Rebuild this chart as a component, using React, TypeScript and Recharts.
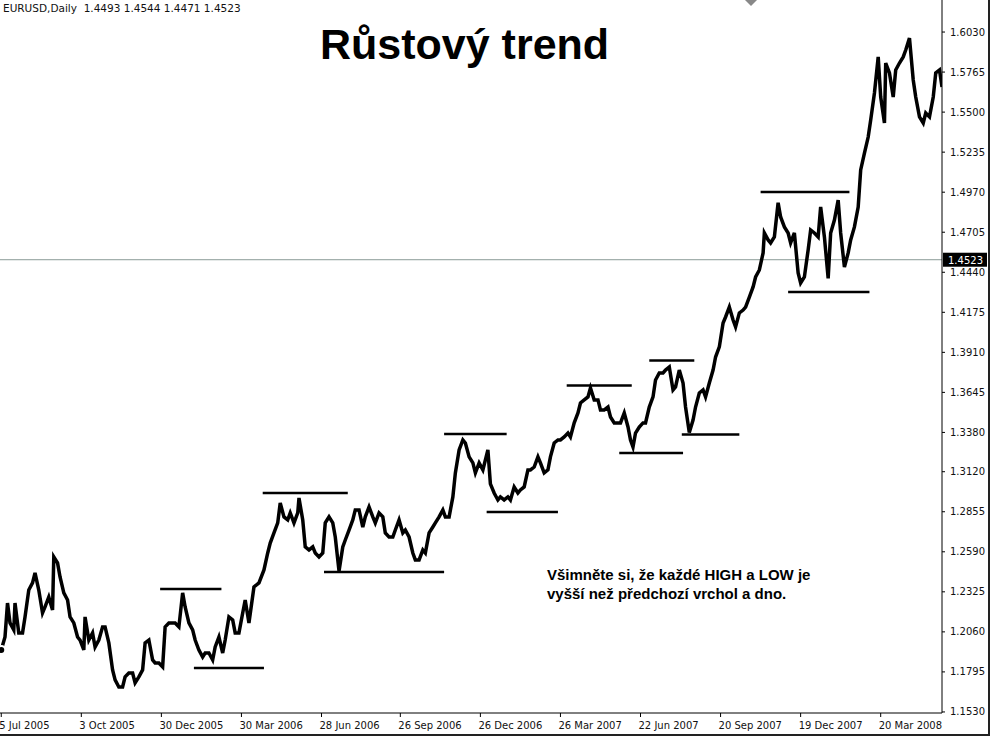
import React from 'react'
import { ComposedChart, Line, XAxis, YAxis, ReferenceLine } from 'recharts'

// trading-day index since 5 Jul 2005
const days = [
  0, 3, 5, 7, 10, 11, 14, 17, 19, 22,
  25, 27, 30, 33, 35, 38, 41, 42, 45, 47,
  50, 53, 55, 58, 61, 63, 66, 67, 70, 73,
  75, 78, 81, 83, 86, 89, 91, 94, 97, 99,
  102, 105, 107, 110, 113, 115, 118, 121, 123, 126,
  129, 131, 134, 137, 139, 142, 145, 147, 150, 153,
  155, 158, 161, 163, 166, 169, 171, 174, 177, 179,
  182, 185, 187, 190, 193, 195, 198, 202, 206, 210,
  213, 215, 218, 221, 223, 226, 229, 231, 234, 237,
  238, 241, 243, 246, 249, 251, 254, 257, 259, 262,
  265, 267, 270, 273, 275, 278, 281, 283, 286, 289,
  291, 294, 297, 299, 302, 305, 307, 310, 313, 315,
  318, 321, 323, 326, 329, 331, 334, 337, 339, 342,
  345, 347, 350, 353, 355, 358, 361, 363, 366, 369,
  371, 374, 377, 379, 382, 385, 389, 391, 394, 397,
  399, 402, 405, 407, 410, 413, 415, 418, 421, 423,
  426, 429, 431, 434, 437, 439, 442, 445, 447, 450,
  453, 455, 458, 461, 463, 466, 469, 471, 474, 477,
  479, 482, 485, 487, 490, 493, 495, 498, 501, 503,
  505, 507, 510, 513, 515, 518, 521, 523, 526, 529,
  531, 534, 537, 539, 542, 545, 547, 550, 553, 555,
  558, 561, 563, 566, 569, 571, 574, 577, 579, 582,
  585, 587, 590, 593, 595, 598, 601, 603, 606, 609,
  610, 613, 615, 618, 621, 623, 626, 629, 631, 634,
  637, 639, 642, 645, 647, 650, 653, 655, 658, 661,
  663, 666, 669, 671, 674, 677, 679, 682, 685, 687,
  690, 693, 695, 698, 701, 703, 706, 707, 710, 713,
  715, 718, 721, 723, 726, 729, 731, 734, 737, 739,
  742, 745, 747, 750, 752,
]

// EURUSD close
const closes = [
  1.194, 1.2026, 1.2251, 1.2119, 1.2073, 1.2251, 1.2053, 1.2053, 1.2159, 1.2337,
  1.2384, 1.245, 1.2337, 1.2185, 1.2225, 1.2291, 1.2205, 1.2556, 1.2516, 1.2423,
  1.2318, 1.2271, 1.2159, 1.2119, 1.2026, 1.2006, 1.194, 1.2159, 1.2006, 1.2053,
  1.196, 1.2006, 1.2093, 1.2093, 1.1987, 1.1808, 1.1742, 1.1695, 1.1695, 1.1762,
  1.1788, 1.1788, 1.1722, 1.1762, 1.1808, 1.1987, 1.2006, 1.1874, 1.1854, 1.1854,
  1.1828, 1.2093, 1.2119, 1.2119, 1.2119, 1.2093, 1.2318, 1.2225, 1.2119, 1.2073,
  1.2006, 1.194, 1.1894, 1.192, 1.192, 1.1874, 1.196, 1.2026, 1.192, 1.2006,
  1.2159, 1.2139, 1.2053, 1.2053, 1.2185, 1.2271, 1.2119, 1.2357, 1.2384, 1.247,
  1.2582, 1.2648, 1.2715, 1.2781, 1.2913, 1.2821, 1.2801, 1.2847, 1.2781, 1.2847,
  1.2946, 1.2801, 1.2622, 1.2602, 1.2622, 1.2582, 1.2556, 1.2582, 1.2781, 1.2821,
  1.2781, 1.2688, 1.2462, 1.2622, 1.2668, 1.2734, 1.2801, 1.2867, 1.2867, 1.2754,
  1.2821, 1.2887, 1.2821, 1.2781, 1.2847, 1.2821, 1.2715, 1.2688, 1.2688, 1.2734,
  1.2801, 1.2715, 1.2734, 1.2688, 1.2582, 1.2536, 1.2536, 1.2602, 1.2582, 1.2715,
  1.2754, 1.2781, 1.2821, 1.2867, 1.2821, 1.2821, 1.2953, 1.3112, 1.3264, 1.333,
  1.331, 1.3218, 1.3178, 1.3112, 1.3178, 1.3132, 1.3264, 1.304, 1.2979, 1.2933,
  1.2953, 1.2933, 1.2953, 1.2933, 1.3019, 1.2979, 1.2999, 1.3019, 1.3132, 1.3132,
  1.3151, 1.3218, 1.3178, 1.3112, 1.3132, 1.3218, 1.331, 1.333, 1.333, 1.335,
  1.3376, 1.335, 1.3443, 1.3509, 1.3575, 1.3595, 1.3615, 1.3674, 1.3595, 1.3595,
  1.3529, 1.3529, 1.3548, 1.3482, 1.3443, 1.3443, 1.3443, 1.3509, 1.3416, 1.333,
  1.3284, 1.3376, 1.3416, 1.3443, 1.3443, 1.3548, 1.3615, 1.3727, 1.3774, 1.3774,
  1.3793, 1.3813, 1.3661, 1.3681, 1.3793, 1.3707, 1.3548, 1.338, 1.3462, 1.3548,
  1.3641, 1.3661, 1.3615, 1.3707, 1.3793, 1.3879, 1.3946, 1.4104, 1.4144, 1.421,
  1.4124, 1.4078, 1.4171, 1.419, 1.421, 1.4276, 1.4343, 1.4409, 1.4455, 1.4568,
  1.47, 1.4654, 1.4634, 1.4674, 1.49, 1.4806, 1.474, 1.47, 1.4634, 1.47,
  1.4435, 1.4369, 1.4409, 1.4588, 1.472, 1.47, 1.4674, 1.4872, 1.4674, 1.44,
  1.47, 1.4786, 1.4918, 1.47, 1.4475, 1.4568, 1.4654, 1.474, 1.4872, 1.5117,
  1.5229, 1.5335, 1.5448, 1.5627, 1.5865, 1.56, 1.5428, 1.5825, 1.5759, 1.56,
  1.5779, 1.5825, 1.5865, 1.5911, 1.599, 1.5713, 1.56, 1.5468, 1.5428, 1.5494,
  1.5468, 1.56, 1.5759, 1.5779, 1.5666,
]

const xTicks = [0, 64, 128, 192, 256, 319, 383, 447, 511, 575, 639, 703]
const xLabels = [
  '5 Jul 2005', '3 Oct 2005', '30 Dec 2005', '30 Mar 2006', '28 Jun 2006', '26 Sep 2006',
  '26 Dec 2006', '26 Mar 2007', '22 Jun 2007', '20 Sep 2007', '19 Dec 2007', '20 Mar 2008',
]

const yTicks = [
  1.153, 1.1795, 1.206, 1.2325, 1.259, 1.2855, 1.312, 1.338, 1.3645,
  1.391, 1.4175, 1.444, 1.4705, 1.497, 1.5235, 1.55, 1.5765, 1.603,
]

// hand-drawn highs / lows: start day, end day, price
const levels = [
  { from: 127, to: 176, price: 1.2344 },
  { from: 154, to: 210, price: 1.1821 },
  { from: 209, to: 277, price: 1.2979 },
  { from: 258, to: 354, price: 1.2457 },
  { from: 354, to: 404, price: 1.337 },
  { from: 388, to: 445, price: 1.2854 },
  { from: 452, to: 504, price: 1.3691 },
  { from: 494, to: 545, price: 1.3244 },
  { from: 518, to: 554, price: 1.3856 },
  { from: 544, to: 590, price: 1.3367 },
  { from: 607, to: 678, price: 1.4971 },
  { from: 629, to: 694, price: 1.431 },
]

const bid = 1.4523
const quote = 'EURUSD,Daily  1.4493 1.4544 1.4471 1.4523'

const rows = days.map((d, i) => ({ day: d, close: closes[i] }))

const font = '"DejaVu Sans", sans-serif'
const arial = '"Liberation Sans", Arial, sans-serif'

function DateTick(props: any) {
  const { x, y, payload } = props
  const idx = xTicks.indexOf(payload.value)
  return (
    <text x={x - 2} y={y + 10} fontSize={10} fontFamily={font} fill="#111" textAnchor="start">
      {xLabels[idx]}
    </text>
  )
}

function BidLabel(props: any) {
  const vb = props.viewBox
  const x = vb.x + vb.width
  const y = vb.y
  return (
    <g>
      <rect x={x + 1} y={y - 7} width={44} height={14} fill="#000" />
      <text x={x + 6} y={y + 4} fontSize={10} fontFamily={font} fill="#fff">
        {bid.toFixed(4)}
      </text>
    </g>
  )
}

export default function App() {
  return (
    <div style={{ position: 'absolute', left: 0, top: 0, width: 990, height: 736, background: '#fff' }}>
      <ComposedChart width={988} height={734} data={rows} margin={{ top: 0, right: 0, bottom: 0, left: 0 }}>
        <XAxis
          type="number"
          dataKey="day"
          domain={[-1, 752]}
          allowDataOverflow
          ticks={xTicks}
          interval={0}
          tick={<DateTick />}
          tickSize={4}
          height={21}
          axisLine={{ stroke: '#000' }}
          tickLine={{ stroke: '#000' }}
        />
        <YAxis
          orientation="right"
          type="number"
          domain={[1.1523, 1.6242]}
          allowDataOverflow
          ticks={yTicks}
          interval={0}
          tickFormatter={(v: number) => v.toFixed(4)}
          width={46}
          tickSize={3}
          tickMargin={5}
          tick={{ fill: '#111', fontSize: 10, fontFamily: font }}
          axisLine={{ stroke: '#000' }}
          tickLine={{ stroke: '#000' }}
        />
        <ReferenceLine y={bid} stroke="#8a9a96" strokeWidth={1} label={<BidLabel />} />
        {levels.map((l, i) => (
          <ReferenceLine
            key={i}
            segment={[{ x: l.from, y: l.price }, { x: l.to, y: l.price }]}
            stroke="#000"
            strokeWidth={2.5}
          />
        ))}
        <Line
          type="linear"
          dataKey="close"
          stroke="#000"
          strokeWidth={3.5}
          dot={false}
          isAnimationActive={false}
        />
      </ComposedChart>
      <svg
        width={990}
        height={736}
        style={{ position: 'absolute', left: 0, top: 0, pointerEvents: 'none' }}
      >
        <line x1={989} y1={0} x2={989} y2={736} stroke="#222" strokeWidth={2} />
        <line x1={0} y1={735} x2={990} y2={735} stroke="#222" strokeWidth={2} />
        <polygon points="745,0 757,0 751,6" fill="#888" />
        <text x={3} y={12} fontSize={10.5} fontFamily={font} fill="#111" xmlSpace="preserve">
          {quote}
        </text>
        <text x={320} y={59} fontSize={43} fontWeight="bold" fontFamily={arial} fill="#000">
          Růstový trend
        </text>
        <text x={547} y={580} fontSize={15} fontWeight="bold" fontFamily={arial} fill="#000">
          Všimněte si, že každé HIGH a LOW je
        </text>
        <text x={547} y={599} fontSize={15} fontWeight="bold" fontFamily={arial} fill="#000">
          vyšší než předchozí vrchol a dno.
        </text>
      </svg>
    </div>
  )
}
